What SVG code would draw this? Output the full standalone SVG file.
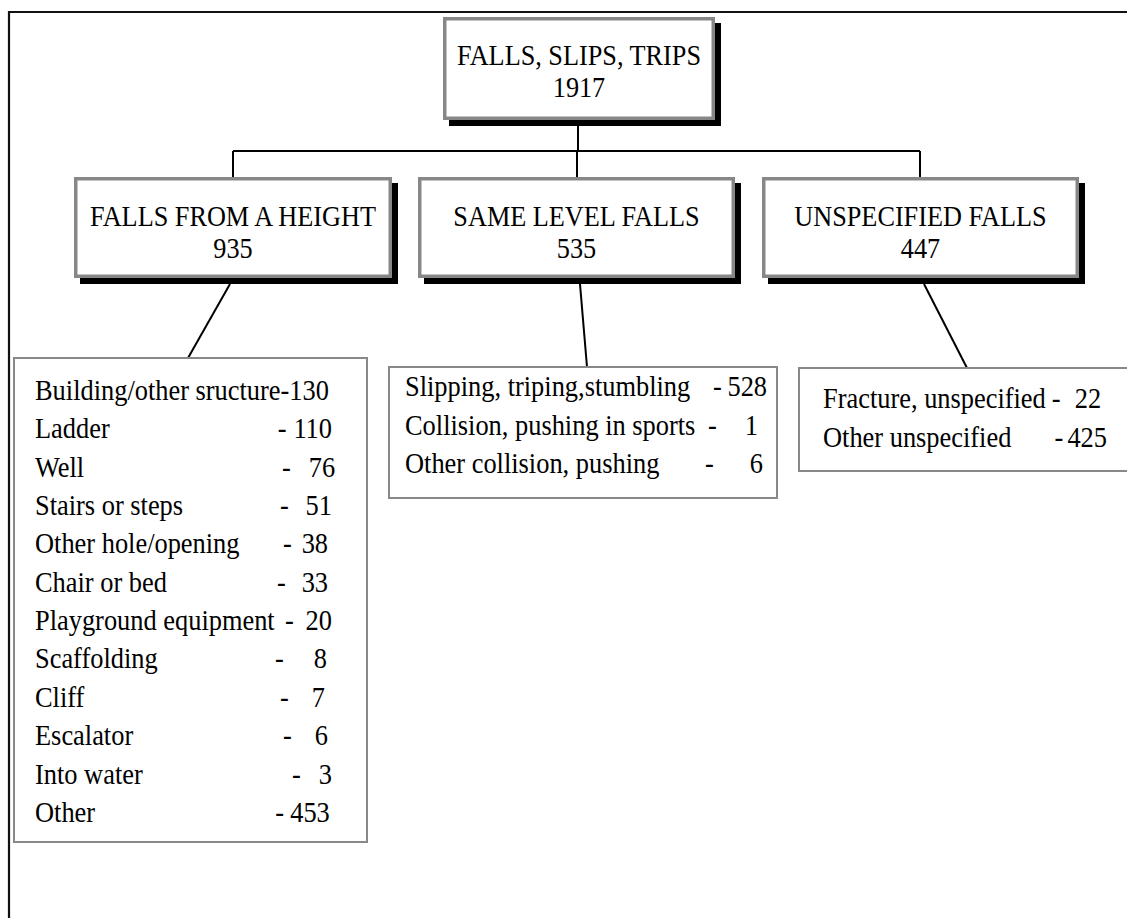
<svg xmlns="http://www.w3.org/2000/svg" width="1127" height="918" viewBox="0 0 1127 918">
<style>
text{font-family:"Liberation Serif","Times New Roman",serif;font-size:30px;fill:#000}
.hd{text-anchor:middle}
.shadow{fill:#000}
.box{fill:#fff;stroke:#878787;stroke-width:3.5}
.list{fill:#fff;stroke:#888;stroke-width:2}
.conn{stroke:#000;stroke-width:2;fill:none}
.frame{stroke:#111;stroke-width:2.2;fill:none}
.e{text-anchor:end}
</style>
<g id="frame">
<path class="frame" d="M9,918 V12 H1127"/>
</g>
<g id="connectors">
<path class="conn" d="M578,126 V151 M233,151 H920 M233,151 V177 M577,151 V177 M920,151 V177"/>
<path class="conn" d="M230,284 L188,358"/>
<path class="conn" d="M580,284 L587,367"/>
<path class="conn" d="M924,284 L967,368"/>
</g>
<g id="root">
<rect class="shadow" x="449" y="23" width="272" height="103"/>
<rect class="box" x="444.75" y="18.75" width="268.5" height="99.5"/>
<text class="hd" transform="translate(579,65) scale(0.875,1)">FALLS, SLIPS, TRIPS</text>
<text class="hd" transform="translate(579,97) scale(0.875,1)">1917</text>
</g>
<g id="height">
<rect class="shadow" x="80" y="183" width="318" height="101"/>
<rect class="box" x="75.75" y="178.75" width="314.5" height="97.5"/>
<text class="hd" transform="translate(233,226) scale(0.875,1)">FALLS FROM A HEIGHT</text>
<text class="hd" transform="translate(233,258) scale(0.875,1)">935</text>
</g>
<g id="same">
<rect class="shadow" x="424" y="183" width="317" height="101"/>
<rect class="box" x="419.75" y="178.75" width="313.5" height="97.5"/>
<text class="hd" transform="translate(576.5,226) scale(0.875,1)">SAME LEVEL FALLS</text>
<text class="hd" transform="translate(576.5,258) scale(0.875,1)">535</text>
</g>
<g id="unspecified">
<rect class="shadow" x="768" y="183" width="317" height="101"/>
<rect class="box" x="763.75" y="178.75" width="313.5" height="97.5"/>
<text class="hd" transform="translate(920.5,226) scale(0.875,1)">UNSPECIFIED FALLS</text>
<text class="hd" transform="translate(920.5,258) scale(0.875,1)">447</text>
</g>
<g id="height-list">
<rect class="list" x="14" y="358" width="353" height="484"/>
<g transform="translate(35,0) scale(0.88,1)">
<text x="0" y="400">Building/other sructure-130</text>
<text y="438.4"><tspan x="0">Ladder</tspan><tspan x="276">-</tspan><tspan class="e" x="337.5">110</tspan></text>
<text y="476.7"><tspan x="0">Well</tspan><tspan x="280.7">-</tspan><tspan class="e" x="341">76</tspan></text>
<text y="515.1"><tspan x="0">Stairs or steps</tspan><tspan x="278.4">-</tspan><tspan class="e" x="337.5">51</tspan></text>
<text y="553.4"><tspan x="0">Other hole/opening</tspan><tspan x="281.8">-</tspan><tspan class="e" x="333">38</tspan></text>
<text y="591.8"><tspan x="0">Chair or bed</tspan><tspan x="275">-</tspan><tspan class="e" x="333">33</tspan></text>
<text y="630.2"><tspan x="0">Playground equipment</tspan><tspan x="284">-</tspan><tspan class="e" x="337.5">20</tspan></text>
<text y="668.5"><tspan x="0">Scaffolding</tspan><tspan x="272.7">-</tspan><tspan class="e" x="331.8">8</tspan></text>
<text y="706.9"><tspan x="0">Cliff</tspan><tspan x="278.4">-</tspan><tspan class="e" x="329.5">7</tspan></text>
<text y="745.2"><tspan x="0">Escalator</tspan><tspan x="281.8">-</tspan><tspan class="e" x="333">6</tspan></text>
<text y="783.6"><tspan x="0">Into water</tspan><tspan x="292">-</tspan><tspan class="e" x="337.5">3</tspan></text>
<text y="822"><tspan x="0">Other</tspan><tspan x="273">-</tspan><tspan class="e" x="335">453</tspan></text>
</g>
</g>
<g id="same-list">
<rect class="list" x="389" y="367" width="388" height="131"/>
<g transform="translate(405,0) scale(0.88,1)">
<text y="396"><tspan x="0">Slipping, triping,stumbling</tspan><tspan x="350">-</tspan><tspan class="e" x="411.4">528</tspan></text>
<text y="435"><tspan x="0">Collision, pushing in sports</tspan><tspan x="344.3">-</tspan><tspan class="e" x="401">1</tspan></text>
<text y="473"><tspan x="0">Other collision, pushing</tspan><tspan x="341">-</tspan><tspan class="e" x="406.8">6</tspan></text>
</g>
</g>
<g id="unspecified-list">
<rect class="list" x="799" y="368" width="340" height="103"/>
<g transform="translate(823,0) scale(0.88,1)">
<text y="408"><tspan x="0">Fracture, unspecified</tspan><tspan x="260">-</tspan><tspan class="e" x="316">22</tspan></text>
<text y="447"><tspan x="0">Other unspecified</tspan><tspan x="263">-</tspan><tspan class="e" x="322.7">425</tspan></text>
</g>
</g>
</svg>
